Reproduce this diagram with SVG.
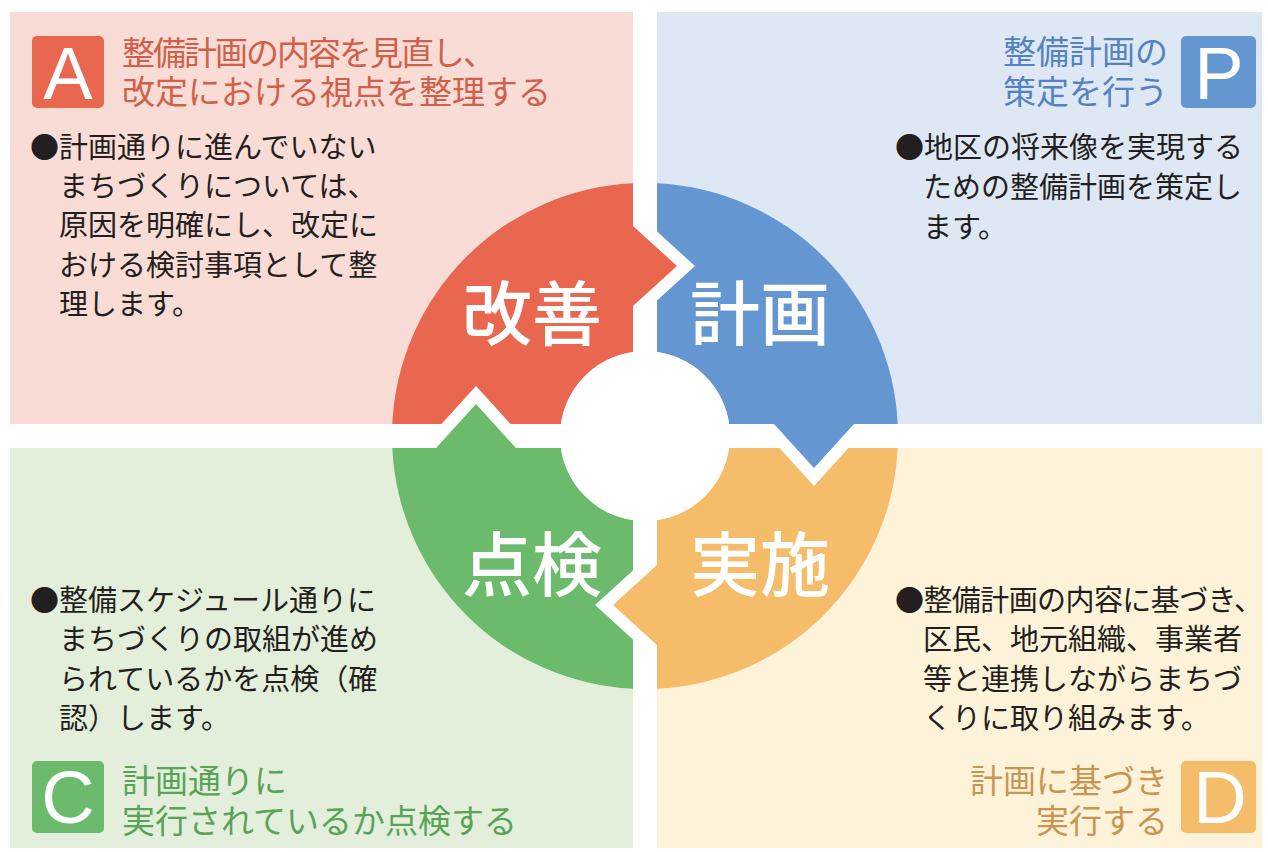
<svg xmlns="http://www.w3.org/2000/svg" width="1268" height="852" viewBox="0 0 1268 852">
  <style>
    .jp { font-family: "Noto Sans CJK JP", "Noto Sans", sans-serif; }
    .body { font-size: 29px; fill: #231f20; }
    .head { font-size: 33px; }
    .big { font-size: 70px; fill: #ffffff; font-weight: 500; text-anchor: middle; }
    .badge { font-family: "Liberation Sans", Arial, sans-serif; font-size: 74px; fill: #ffffff; text-anchor: middle; }
    .gap { fill: #ffffff; }
  </style>
  <rect x="0" y="0" width="1268" height="852" fill="#ffffff"/>

  <g id="panel-A">
    <rect x="10" y="12" width="623" height="412" fill="#f9dcd5"/>
    <rect x="32" y="36" width="72" height="72" rx="5" fill="#e8674e"/>
    <text class="badge" x="68" y="99">A</text>
    <text class="jp head" fill="#d0604a" x="122" y="65" textLength="374" lengthAdjust="spacing">整備計画の内容を見直し、</text>
    <text class="jp head" fill="#d0604a" x="122" y="104">改定における視点を整理する</text>
    <text class="jp body" x="30" y="158">●計画通りに進んでいない</text>
    <text class="jp body" x="59" y="197">まちづくりについては、</text>
    <text class="jp body" x="59" y="236">原因を明確にし、改定に</text>
    <text class="jp body" x="59" y="276">おける検討事項として整</text>
    <text class="jp body" x="59" y="315">理します。</text>
  </g>

  <g id="panel-P">
    <rect x="657" y="12" width="605" height="412" fill="#dee8f5"/>
    <rect x="1181" y="36" width="75" height="72" rx="5" fill="#6496d2"/>
    <text class="badge" x="1219" y="99">P</text>
    <text class="jp head" fill="#5383c0" x="1168" y="64" text-anchor="end">整備計画の</text>
    <text class="jp head" fill="#5383c0" x="1168" y="104" text-anchor="end">策定を行う</text>
    <text class="jp body" x="895" y="158">●地区の将来像を実現する</text>
    <text class="jp body" x="923" y="198">ための整備計画を策定し</text>
    <text class="jp body" x="923" y="238">ます。</text>
  </g>

  <g id="panel-C">
    <rect x="10" y="448" width="623" height="400" fill="#e3efda"/>
    <rect x="32" y="761" width="72" height="72" rx="5" fill="#6cbb6c"/>
    <text class="badge" x="68" y="823">C</text>
    <text class="jp head" fill="#58a358" x="122" y="793">計画通りに</text>
    <text class="jp head" fill="#58a358" x="122" y="833">実行されているか点検する</text>
    <text class="jp body" x="30" y="611">●整備スケジュール通りに</text>
    <text class="jp body" x="59" y="650">まちづくりの取組が進め</text>
    <text class="jp body" x="59" y="690">られているかを点検（確</text>
    <text class="jp body" x="59" y="729">認）します。</text>
  </g>

  <g id="panel-D">
    <rect x="657" y="448" width="605" height="400" fill="#fef2d8"/>
    <rect x="1181" y="761" width="75" height="72" rx="5" fill="#f5bc69"/>
    <text class="badge" x="1220" y="823">D</text>
    <text class="jp head" fill="#c99552" x="1168" y="793" text-anchor="end">計画に基づき</text>
    <text class="jp head" fill="#c99552" x="1168" y="833" text-anchor="end">実行する</text>
    <text class="jp body" x="895" y="611" textLength="368" lengthAdjust="spacing">●整備計画の内容に基づき、</text>
    <text class="jp body" x="923" y="650">区民、地元組織、事業者</text>
    <text class="jp body" x="923" y="690">等と連携しながらまちづ</text>
    <text class="jp body" x="923" y="729">くりに取り組みます。</text>
  </g>

  <g id="seg-kaizen">
    <path d="M 392.3,424 A 253 253 0 0 1 633,183.3 L 633,351.9 A 85 85 0 0 0 560.9,424 Z" fill="#e8674e"/>
  </g>
  <g id="seg-keikaku">
    <path d="M 657,183.3 A 253 253 0 0 1 897.7,424 L 729.1,424 A 85 85 0 0 0 657,351.9 Z" fill="#6496d2"/>
  </g>
  <g id="seg-jisshi">
    <path d="M 897.7,448 A 253 253 0 0 1 657,688.7 L 657,520.1 A 85 85 0 0 0 729.1,448 Z" fill="#f5bc69"/>
  </g>
  <g id="seg-tenken">
    <path d="M 633,688.7 A 253 253 0 0 1 392.3,448 L 560.9,448 A 85 85 0 0 0 633,520.1 Z" fill="#6cbb6c"/>
  </g>

  <g id="connectors">
    <polygon class="gap" points="645,220.6 694.9,266 645,311.4"/>
    <polygon fill="#e8674e" points="630,226 633,226 677,266 633,306 630,306"/>
    <polygon class="gap" points="768.6,436 814,485.9 859.4,436"/>
    <polygon fill="#6496d2" points="774,421 774,424 814,468 854,424 854,421"/>
    <polygon class="gap" points="645,559.6 595.1,605 645,650.4"/>
    <polygon fill="#f5bc69" points="660,565 657,565 613,605 657,645 660,645"/>
    <polygon class="gap" points="430.6,436 476,386.1 521.4,436"/>
    <polygon fill="#6cbb6c" points="436,451 436,448 476,404 516,448 516,451"/>
  </g>

  <g id="hub">
    <circle cx="645" cy="436" r="85" fill="#ffffff"/>
  </g>

  <g id="labels">
    <text class="jp big" x="532" y="340">改善</text>
    <text class="jp big" x="760" y="340">計画</text>
    <text class="jp big" x="532" y="591">点検</text>
    <text class="jp big" x="760" y="591">実施</text>
  </g>
</svg>
